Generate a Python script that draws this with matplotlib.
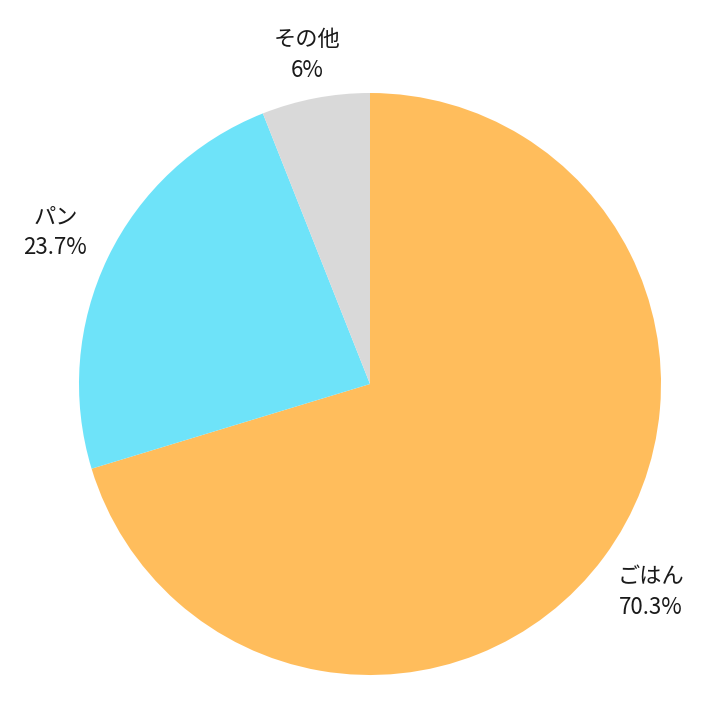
import matplotlib
matplotlib.use("Agg")
import numpy as np
import matplotlib.pyplot as plt

plt.rcParams['font.family'] = ['Noto Sans CJK JP', 'DejaVu Sans']

# データ
labels = ["ごはん", "パン", "その他"]
values = [70.3, 23.7, 6]
colors = ["#FFBD5C", "#6EE3F9", "#D9D9D9"]

texts = [f"{name}\n{v:g}%" for name, v in zip(labels, values)]

W, H = 726, 714
fig = plt.figure(figsize=(W / 100, H / 100), dpi=100)
# 円の中心 (370,384) 半径 291 px
cx, cy, r = 370, 384, 291
ax = fig.add_axes([(cx - r) / W, (H - cy - r) / H, 2 * r / W, 2 * r / H])

wedges, lbls = ax.pie(values, labels=texts, colors=colors, startangle=90,
                      counterclock=False, labeldistance=1.2,
                      textprops=dict(fontsize=16, color="#1a1a1a"))

# ラベル位置の調整（上側のラベルは少し内側）
dists = [1.2, 1.2, 1.15]
for w, t, d in zip(wedges, lbls, dists):
    ang = np.deg2rad((w.theta1 + w.theta2) / 2)
    t.set_position((d * np.cos(ang), d * np.sin(ang)))
    t.set_ha("center")
    t.set_va("center")
    t.set_linespacing(1.45)

ax.set_xlim(-1, 1)
ax.set_ylim(-1, 1)
ax.set_aspect("equal")
ax.axis("off")

fig.savefig("out.png", dpi=100)
